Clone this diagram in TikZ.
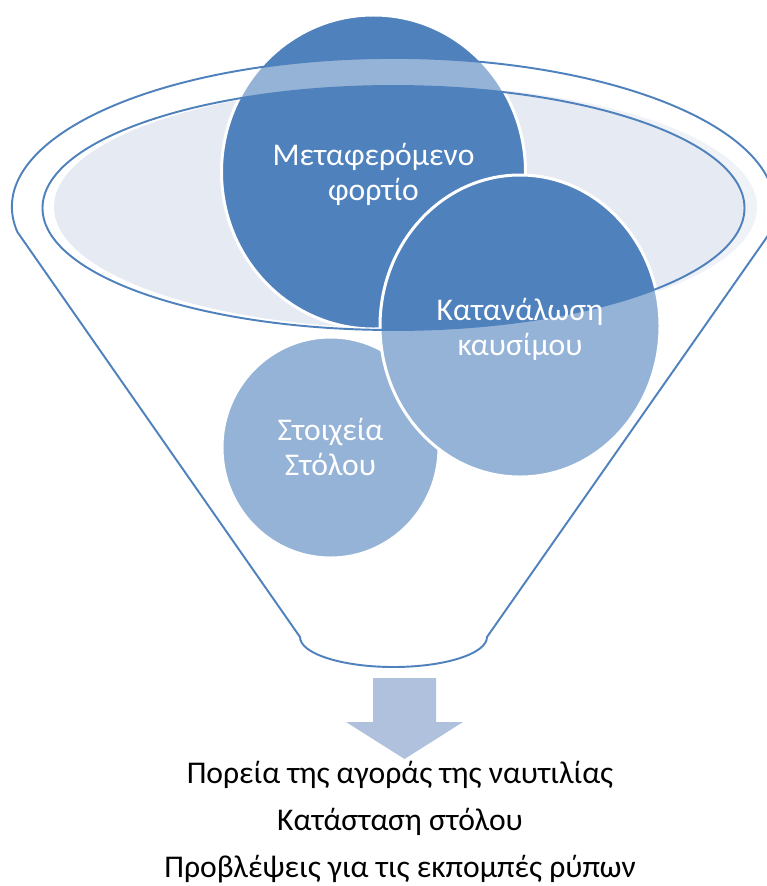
\documentclass[tikz,border=0pt]{standalone}
\usepackage{fontspec}
\setmainfont{Carlito}
\definecolor{funblue}{HTML}{4F81BD}
\definecolor{funshade}{HTML}{E5EAF3}
\definecolor{arrowblue}{HTML}{B0C1DD}
\tikzset{
  ball/.style={fill=funblue, draw=white, line width=1.7pt},
  balltext/.style={text=white, align=center, font=\fontsize{18}{20}\selectfont},
  rim/.style={draw=funblue, line width=1.1pt},
  outtext/.style={anchor=base, font=\fontsize{18}{22}\selectfont}
}
\begin{document}
\begin{tikzpicture}[x=0.02cm, y=-0.02cm]
      \useasboundingbox (0,0) rectangle (767,886);
      % shade inside the mouth
      \fill[funshade] (405.5,207) ellipse [x radius=351.5, y radius=121.5];
      % the three balls
      \draw[ball] (330.5,447.5) ellipse [x radius=108.5, y radius=110.5];
      \draw[ball] (373.5,172) ellipse [x radius=152, y radius=157];
      \draw[ball] (520,326) ellipse [x radius=140, y radius=151];
      % funnel body, seen through
      \fill[white, fill opacity=0.4, even odd rule]
        (17.4,232) arc [start angle=170.3, end angle=371.6, x radius=381.5, y radius=149]
        -- (487,637) arc [start angle=0, end angle=180, x radius=93.5, y radius=30] -- cycle
        (393.5,208) ellipse [x radius=351, y radius=122];
      \draw[rim] (17.4,232) arc [start angle=170.3, end angle=371.6, x radius=381.5, y radius=149]
        -- (487,637) arc [start angle=0, end angle=180, x radius=93.5, y radius=30] -- cycle;
      \draw[rim] (393.5,208) ellipse [x radius=351, y radius=122];
      % arrow out of the funnel
      \fill[arrowblue] (373,678) -- (436,678) -- (436,722) -- (463,722) -- (404.5,759)
        -- (346,722) -- (373,722) -- cycle;
      \node[balltext] (cargo) at (373.5,174) {Μεταφερόμενο\\φορτίο};
      \node[balltext] (fuel) at (520,329) {Κατανάλωση\\καυσίμου};
      \node[balltext] (fleet) at (330.5,447) {Στοιχεία\\Στόλου};
      \node[outtext] (market) at (400,783) {Πορεία της αγοράς της ναυτιλίας};
      \node[outtext] (fleetstate) at (400,830) {Κατάσταση στόλου};
      \node[outtext] (emissions) at (400,877) {Προβλέψεις για τις εκπομπές ρύπων};
    \end{tikzpicture}
\end{document}
